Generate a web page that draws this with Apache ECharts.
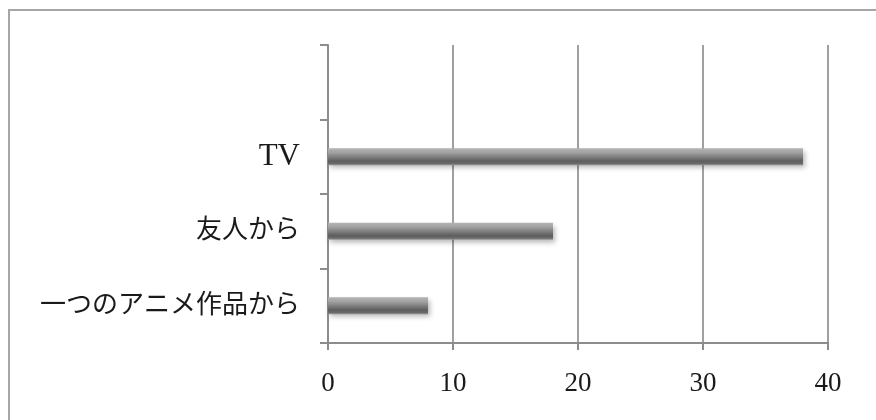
<!DOCTYPE html>
<html>
<head>
<meta charset="utf-8">
<script src="https://cdn.jsdelivr.net/npm/echarts@6/dist/echarts.min.js"></script>
<style>html,body{margin:0;padding:0;background:#fff}#c{width:876px;height:420px}</style>
</head>
<body>
<div id="c"></div>
<script>
const categories = ['一つのアニメ作品から', '友人から', 'TV', ''];
const values = [8, 18, 38, null];
const xTicks = { min: 0, max: 40, interval: 10 };

const chart = echarts.init(document.getElementById('c'), null, { renderer: 'canvas' });
const serif = "'Liberation Serif', 'Noto Sans CJK JP', serif";
chart.setOption({
  backgroundColor: '#fff',
  animation: false,
  graphic: [{
    type: 'rect', silent: true,
    shape: { x: 9, y: 10, width: 900, height: 450 },
    style: { fill: 'none', stroke: '#a6a6a6', lineWidth: 2 }
  }],
  grid: { left: 328, right: 48, top: 45, bottom: 77, containLabel: false },
  xAxis: {
    type: 'value', min: xTicks.min, max: xTicks.max, interval: xTicks.interval,
    axisLine: { show: true, lineStyle: { color: '#8c8c8c', width: 2 } },
    axisTick: { show: true, length: 7, lineStyle: { color: '#8c8c8c', width: 2 } },
    splitLine: { show: true, lineStyle: { color: '#a0a0a0', width: 2 } },
    axisLabel: { color: '#1a1a1a', fontFamily: serif, fontSize: 27, margin: 27 }
  },
  yAxis: {
    type: 'category', data: categories,
    axisLine: { show: true, lineStyle: { color: '#8c8c8c', width: 2 } },
    axisTick: { show: true, length: 8, lineStyle: { color: '#8c8c8c', width: 2 } },
    splitLine: { show: false },
    axisLabel: {
      color: '#1a1a1a', fontFamily: serif, fontSize: 26, margin: 28,
      formatter: function (v) { return /^[A-Za-z]+$/.test(v) ? '{l|' + v + '}' : v; },
      rich: { l: { fontFamily: serif, fontSize: 31, color: '#1a1a1a' } }
    }
  },
  series: [{
    type: 'bar', data: values, barWidth: 17,
    itemStyle: {
      color: new echarts.graphic.LinearGradient(0, 0, 0, 1, [
        { offset: 0, color: '#b4b4b4' },
        { offset: 0.25, color: '#a2a2a2' },
        { offset: 0.75, color: '#5e5e5e' },
        { offset: 0.9, color: '#6a6a6a' },
        { offset: 1, color: '#9a9a9a' }
      ]),
      shadowColor: 'rgba(0,0,0,0.28)', shadowBlur: 5, shadowOffsetX: 2, shadowOffsetY: 3
    }
  }]
});
</script>
</body>
</html>
